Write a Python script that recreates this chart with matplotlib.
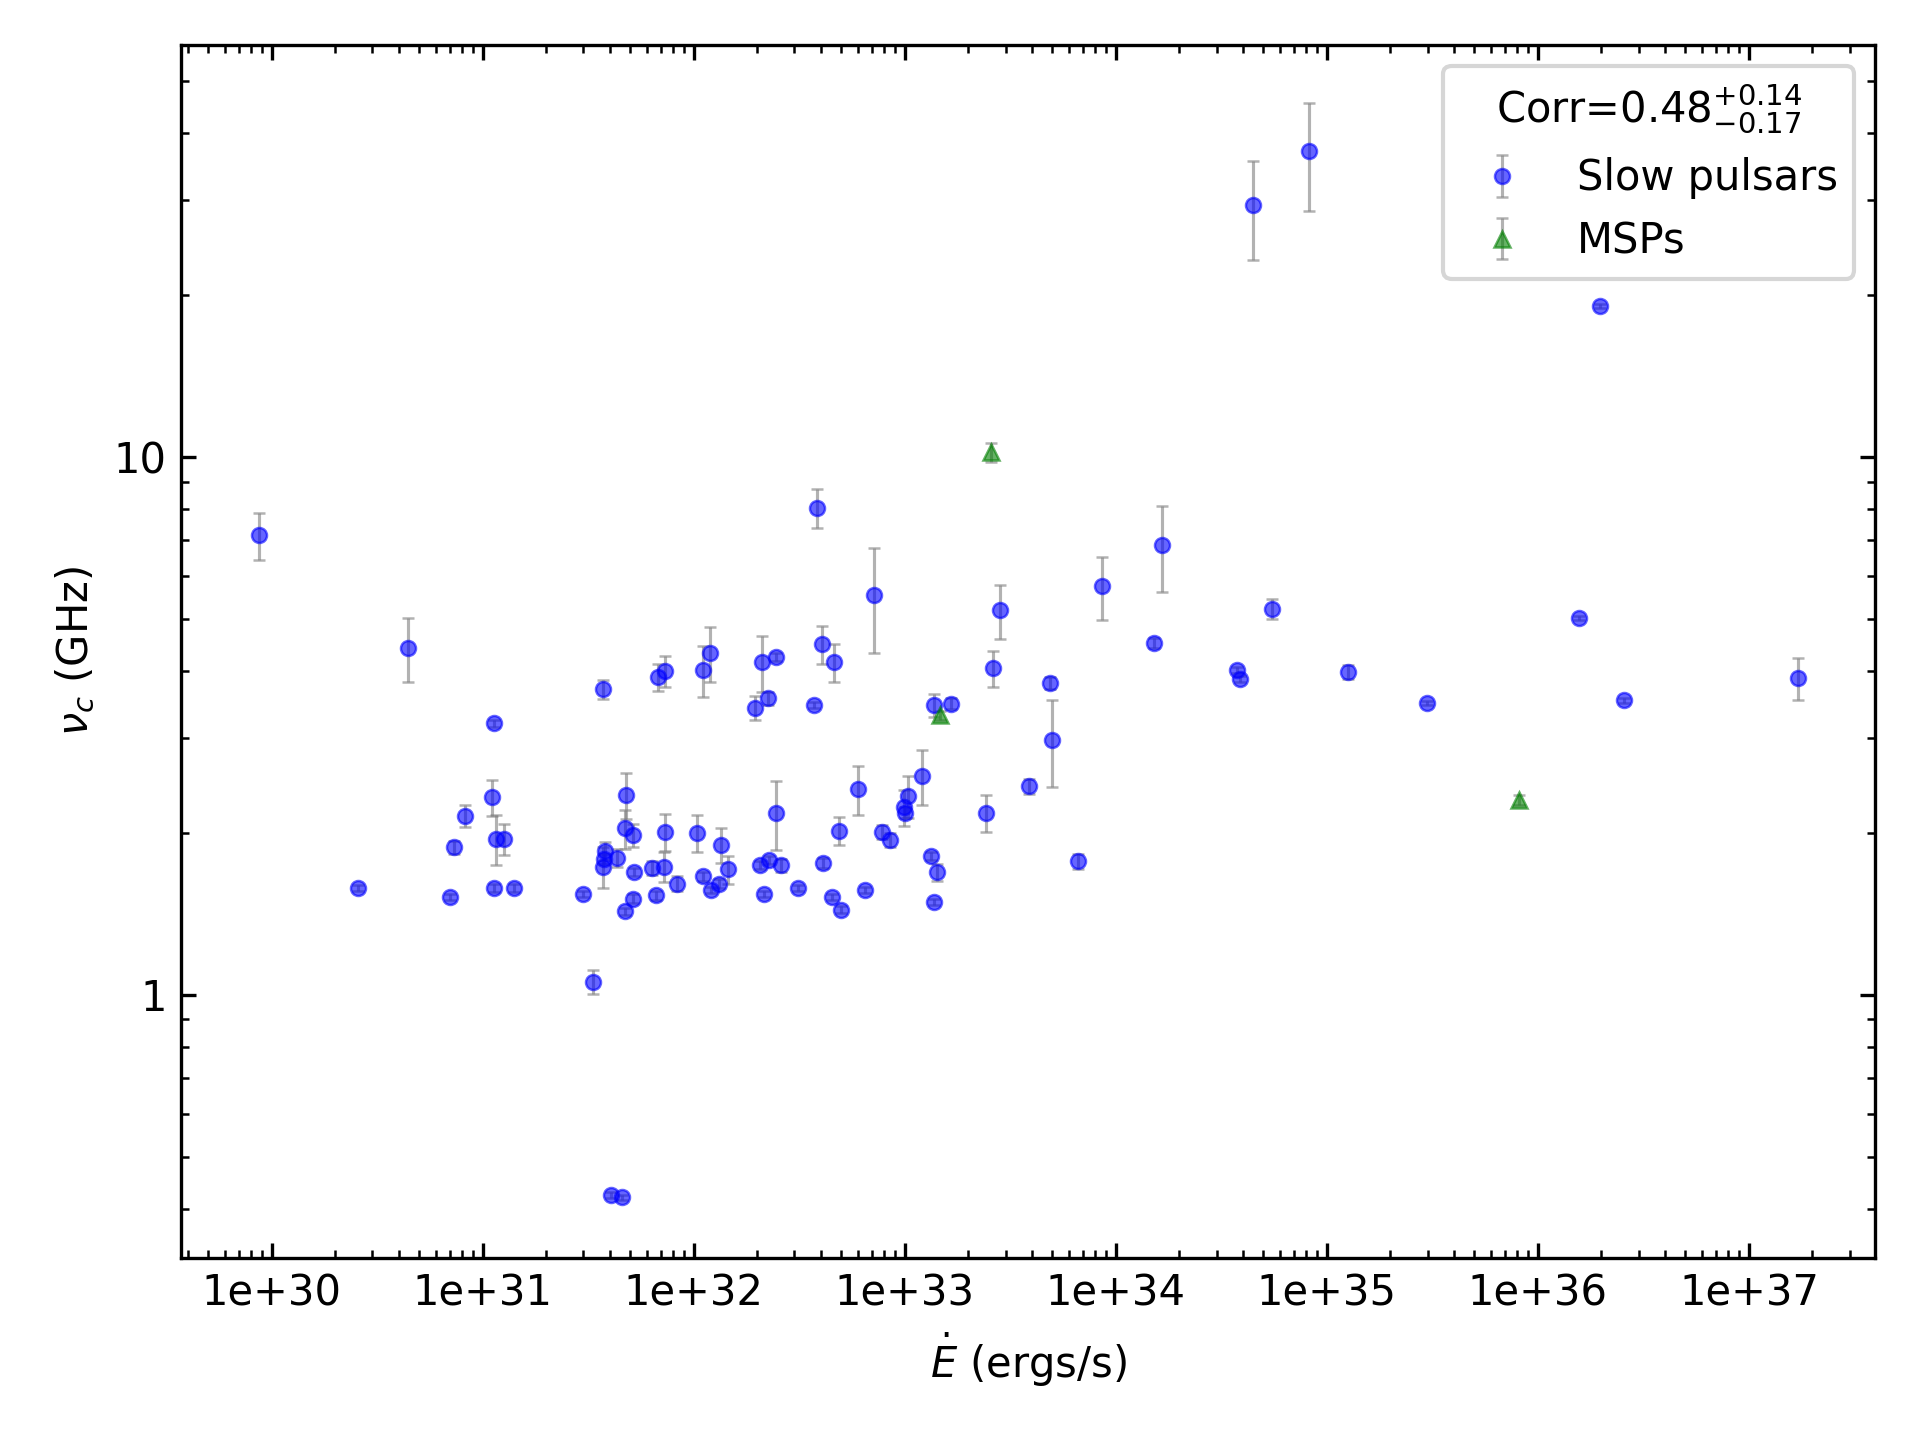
import numpy as np
import matplotlib
matplotlib.use("Agg")
import matplotlib.pyplot as plt
from matplotlib.ticker import FuncFormatter, FormatStrFormatter

# slow pulsars: spin-down energy (ergs/s), peak freq (GHz), error (GHz)
slow_edot = [
    8.7e29, 4.4e30, 1.13e31, 3.72e31, 6.8e31, 7.3e31, 1.10e32, 1.19e32,
    2.55e30, 7.0e30, 7.3e30, 8.2e30, 1.11e31, 1.15e31, 1.26e31, 1.13e31,
    1.40e31, 3.0e31, 3.34e31, 3.70e31, 3.80e31, 3.75e31, 4.33e31, 4.76e31,
    4.72e31, 5.13e31, 5.21e31, 5.13e31, 4.70e31, 6.35e31, 7.22e31, 7.31e31,
    6.64e31, 8.34e31, 1.04e32, 1.10e32, 1.20e32, 1.31e32, 1.34e32, 1.46e32,
    1.96e32, 2.11e32, 2.25e32, 2.46e32, 2.06e32, 2.28e32, 2.58e32, 2.16e32,
    2.44e32, 3.10e32, 3.73e32, 3.85e32, 4.03e32, 4.64e32, 4.11e32, 4.53e32,
    5.00e32, 4.90e32, 5.98e32, 6.45e32, 7.12e32, 7.76e32, 8.46e32, 1.04e33,
    9.9e32, 1.0e33, 1.20e33, 1.33e33, 1.42e33, 1.37e33, 1.37e33, 1.65e33,
    2.43e33, 2.63e33, 2.81e33, 3.87e33, 4.85e33, 5.00e33, 6.64e33, 8.62e33,
    1.52e34, 1.66e34, 3.77e34, 3.88e34, 5.52e34, 4.49e34, 8.19e34, 1.26e35,
    2.97e35, 1.56e36, 1.96e36, 2.56e36, 1.71e37, 4.06e31, 4.58e31,
]
slow_nu = [
    7.16, 4.42, 3.20, 3.70, 3.90, 4.00, 4.02, 4.32,
    1.58, 1.52, 1.88, 2.15, 2.33, 1.95, 1.95, 1.58,
    1.58, 1.54, 1.057, 1.73, 1.85, 1.79, 1.80, 2.35,
    2.04, 1.98, 1.69, 1.51, 1.43, 1.72, 1.73, 2.01,
    1.53, 1.61, 2.00, 1.66, 1.565, 1.61, 1.90, 1.71,
    3.42, 4.15, 3.56, 4.25, 1.74, 1.78, 1.74, 1.54,
    2.18, 1.58, 3.46, 8.04, 4.49, 4.15, 1.76, 1.52,
    1.44, 2.02, 2.41, 1.565, 5.55, 2.01, 1.94, 2.34,
    2.23, 2.18, 2.55, 1.81, 1.69, 1.49, 3.46, 3.48,
    2.18, 4.05, 5.19, 2.44, 3.80, 2.98, 1.77, 5.75,
    4.51, 6.86, 4.02, 3.87, 5.22, 29.4, 37.1, 3.98,
    3.49, 5.02, 19.1, 3.53, 3.88, 0.424, 0.42,
]
slow_err = [
    0.72, 0.61, 0.05, 0.15, 0.22, 0.27, 0.44, 0.51,
    0.02, 0.02, 0.05, 0.10, 0.18, 0.21, 0.13, 0.03,
    0.03, 0.02, 0.055, 0.15, 0.07, 0.04, 0.07, 0.23,
    0.17, 0.10, 0.03, 0.03, 0.02, 0.05, 0.11, 0.16,
    0.03, 0.05, 0.16, 0.03, 0.02, 0.03, 0.14, 0.10,
    0.17, 0.50, 0.10, 0.07, 0.03, 0.03, 0.05, 0.02,
    0.32, 0.02, 0.05, 0.67, 0.37, 0.34, 0.04, 0.02,
    0.02, 0.12, 0.25, 0.02, 1.22, 0.06, 0.06, 0.21,
    0.17, 0.05, 0.30, 0.03, 0.06, 0.02, 0.17, 0.08,
    0.17, 0.31, 0.60, 0.08, 0.10, 0.55, 0.06, 0.78,
    0.10, 1.24, 0.05, 0.05, 0.22, 6.1, 8.4, 0.12,
    0.03, 0.05, 0.2, 0.04, 0.35, 0.005, 0.005,
]

# millisecond pulsars
msp_edot = [1.46e33, 2.55e33, 8.11e35]
msp_nu = [3.31, 10.2, 2.30]
msp_err = [0.06, 0.4, 0.05]

corr_label = r"Corr=$0.48^{+0.14}_{-0.17}$"

fig, ax = plt.subplots(figsize=(6.4, 4.8), dpi=300)
fig.subplots_adjust(left=0.0943, right=0.9766, top=0.9688, bottom=0.1264)

ax.errorbar(slow_edot, slow_nu, yerr=slow_err, fmt="o", color="blue", ms=3.6,
            mew=0.6, ecolor="grey", elinewidth=0.75, capsize=1.5, alpha=0.6,
            label="Slow pulsars")
ax.errorbar(msp_edot, msp_nu, yerr=msp_err, fmt="^", color="green", ms=3.8,
            mew=0.6, ecolor="grey", elinewidth=0.75, capsize=1.5, alpha=0.6,
            label="MSPs")

ax.set_xscale("log")
ax.set_yscale("log")
ax.set_xlim(10**29.57, 10**37.598)
ax.set_ylim(0.324, 58.4)

ax.xaxis.set_major_formatter(FuncFormatter(lambda v, p: "%.0e" % v))
ax.yaxis.set_major_formatter(FormatStrFormatter("%g"))
ax.tick_params(which="both", direction="in", top=True, right=True)

ax.set_xlabel(r"$\dot{E}$ (ergs/s)")
ax.set_ylabel(r"$\nu_c$ (GHz)")
ax.legend(title=corr_label, loc="upper right")

fig.savefig("out.png", dpi=300)
